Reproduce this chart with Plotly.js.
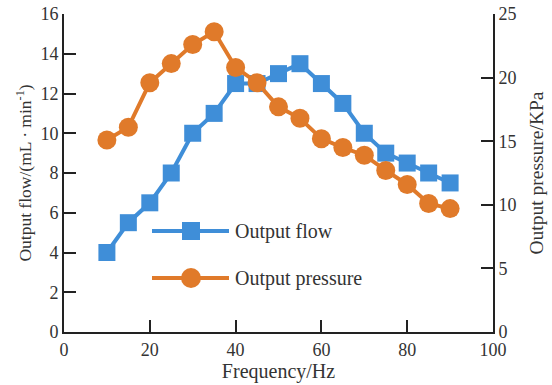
<!DOCTYPE html>
<html>
<head>
<meta charset="utf-8">
<script src="https://cdn.plot.ly/plotly-3.0.1.min.js"></script>
<style>html,body{margin:0;padding:0;background:#fff;}#chart{width:552px;height:385px;}</style>
</head>
<body>
<div id="chart"></div>
<script>
const frequency = [10, 15, 20, 25, 30, 35, 40, 45, 50, 55, 60, 65, 70, 75, 80, 85, 90];
const outputFlow = [4.0, 5.5, 6.5, 8.0, 10.0, 11.0, 12.5, 12.5, 13.0, 13.5, 12.5, 11.5, 10.0, 9.0, 8.5, 8.0, 7.5];
const outputPressure = [15.1, 16.1, 19.6, 21.1, 22.6, 23.6, 20.8, 19.6, 17.7, 16.8, 15.2, 14.5, 13.9, 12.7, 11.6, 10.1, 9.7];
const seriesNames = ['Output flow', 'Output pressure'];
const leftTicks = [0, 2, 4, 6, 8, 10, 12, 14, 16];
const rightTicks = [0, 5, 10, 15, 20, 25];
const xTicks = [0, 20, 40, 60, 80, 100];

const blue = '#3f8ed8';
const orange = '#e07a2a';
const textColor = '#333';
const font = 'Liberation Serif, Times New Roman, serif';

const W = 552, H = 385;
const M = {l: 64, r: 59, t: 14, b: 53};
const pw = W - M.l - M.r, ph = H - M.t - M.b;
const px = p => (p - M.l) / pw;      // pixel -> paper x
const py = p => (H - M.b - p) / ph;  // pixel -> paper y

const traces = [
  {
    x: frequency, y: outputFlow, name: seriesNames[0], type: 'scatter', mode: 'lines+markers',
    line: {color: blue, width: 4}, marker: {symbol: 'square', size: 17, color: blue},
    yaxis: 'y', showlegend: false
  },
  {
    x: frequency, y: outputPressure, name: seriesNames[1], type: 'scatter', mode: 'lines+markers',
    line: {color: orange, width: 4}, marker: {symbol: 'circle', size: 19, color: orange},
    yaxis: 'y2', showlegend: false
  }
];

// Legend drawn as decorations (paper coordinates)
const legendRows = [
  {y: 231, color: blue, kind: 'rect', name: seriesNames[0]},
  {y: 278, color: orange, kind: 'circle', name: seriesNames[1]}
];
const shapes = [];
const annotations = [];
legendRows.forEach(r => {
  shapes.push({type: 'line', xref: 'paper', yref: 'paper', x0: px(152), x1: px(229), y0: py(r.y), y1: py(r.y),
    line: {color: r.color, width: 4}});
  const hs = r.kind === 'rect' ? 9 : 10;
  shapes.push({type: r.kind, xref: 'paper', yref: 'paper', x0: px(191 - hs), x1: px(191 + hs), y0: py(r.y + hs), y1: py(r.y - hs),
    fillcolor: r.color, line: {color: r.color, width: 0}});
  annotations.push({xref: 'paper', yref: 'paper', x: px(233), y: py(r.y), xanchor: 'left', yanchor: 'middle',
    text: r.name, showarrow: false, font: {family: font, size: 20, color: textColor}});
});

const axisCommon = {
  showgrid: false, zeroline: false, showline: true, linecolor: '#222', linewidth: 2,
  ticks: 'inside', ticklen: 12, tickwidth: 2, tickcolor: '#222',
  tickfont: {family: font, size: 18, color: textColor}
};

const layout = {
  width: W, height: H,
  margin: M,
  paper_bgcolor: '#fff', plot_bgcolor: '#fff',
  font: {family: font, color: textColor},
  showlegend: false,
  shapes: shapes,
  annotations: annotations,
  xaxis: Object.assign({}, axisCommon, {
    range: [0, 100], tickvals: xTicks, ticktext: xTicks.map(String),
    title: {text: 'Frequency/Hz', font: {family: font, size: 20, color: textColor}, standoff: 0}
  }),
  yaxis: Object.assign({}, axisCommon, {
    range: [0, 16], tickvals: leftTicks, ticktext: leftTicks.map(String),
    title: {text: 'Output flow/(mL · min<sup>-1</sup>)', font: {family: font, size: 17.5, color: textColor}, standoff: 4}
  }),
  yaxis2: Object.assign({}, axisCommon, {
    range: [0, 25], tickvals: rightTicks, ticktext: rightTicks.map(String),
    overlaying: 'y', side: 'right',
    title: {text: 'Output pressure/KPa', font: {family: font, size: 19.5, color: textColor}, standoff: 14}
  })
};

Plotly.newPlot('chart', traces, layout, {displayModeBar: false, staticPlot: true});
</script>
</body>
</html>
